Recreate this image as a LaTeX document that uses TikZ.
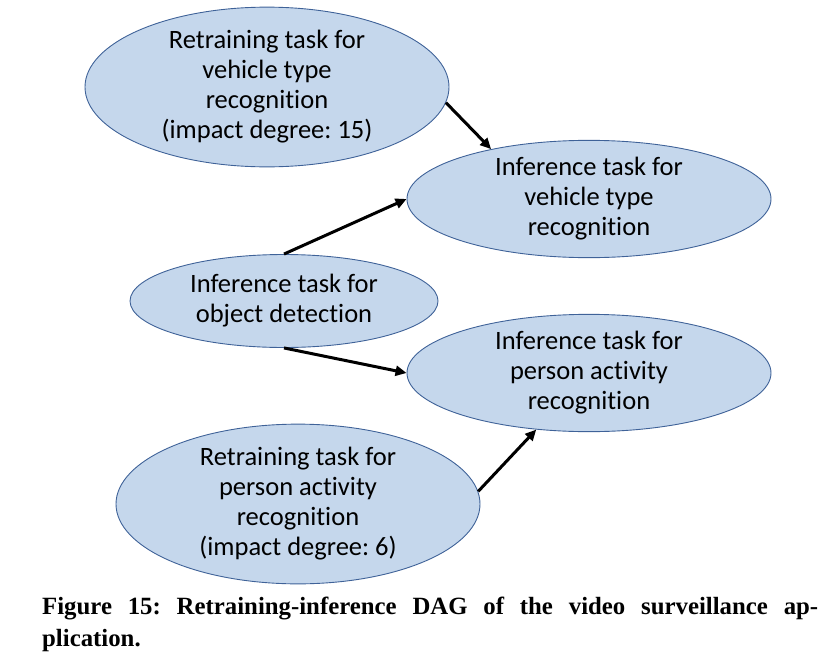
\documentclass[tikz,border=0pt]{standalone}
\usepackage{fontspec}
\setmainfont[Ligatures=NoCommon]{Carlito}
\newfontfamily\capfont{Liberation Serif}
\usetikzlibrary{shapes.geometric,arrows.meta}
\definecolor{efill}{HTML}{C5D7EC}
\definecolor{edraw}{HTML}{3F6298}
\frenchspacing
\begin{document}
\begin{tikzpicture}[x=1pt,y=-1pt,
  task/.style={ellipse, draw=edraw, fill=efill, line width=0.9pt, inner sep=0pt,
    align=center, font=\fontsize{26.5}{30}\selectfont},
  conn/.style={line width=3pt, -{Triangle[length=11pt,width=10pt]}},
  captext/.style={anchor=base west, inner sep=0pt, font=\capfont\bfseries\fontsize{24.8}{28}\selectfont}]
\useasboundingbox (0,0) rectangle (833,672);
\node[task, minimum width=364pt, minimum height=137pt] (e1) at (267,87)
  {Retraining task for\\vehicle type\\recognition\\(impact degree: 15)};
\node[task, minimum width=364pt, minimum height=94pt] (e2) at (589,199)
  {Inference task for\\vehicle type\\recognition};
\node[task, minimum width=308pt, minimum height=93pt] (e3) at (284,301)
  {Inference task for\\object detection};
\node[task, minimum width=364pt, minimum height=94pt] (e4) at (589,373)
  {Inference task for\\person activity\\recognition};
\node[task, minimum width=364pt, minimum height=138pt] (e5) at (298,504)
  {Retraining task for\\person activity\\recognition\\(impact degree: 6)};
\draw[conn] (e1.-5) -- (e2.153);
\draw[conn] (e3.north) -- (e2.west);
\draw[conn] (e3.south) -- (e4.west);
\draw[conn] (e5.4) -- (e4.-133);
\node[captext] (cap1) at (42,614)
  {\makebox[776pt][s]{Figure 15: Retraining-inference DAG of the video surveillance ap-}};
\node[captext] (cap2) at (42,646) {plication.};
\end{tikzpicture}
\end{document}
